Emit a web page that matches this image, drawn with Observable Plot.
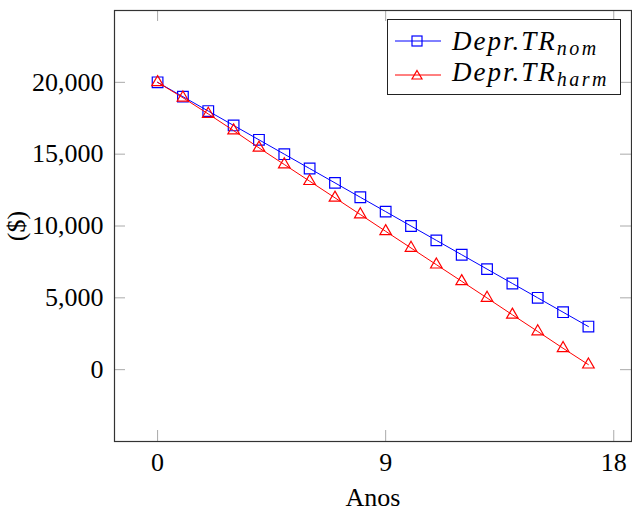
<!DOCTYPE html>
<html>
<head>
<meta charset="utf-8">
<script src="https://cdn.jsdelivr.net/npm/d3@7"></script>
<script src="https://cdn.jsdelivr.net/npm/@observablehq/plot@0.6"></script>
<style>
  html, body { margin: 0; padding: 0; background: #fff; }
  #wrap { position: relative; width: 632px; height: 513px; font-family: "Liberation Serif", "DejaVu Serif", serif; }
  #legend { position: absolute; left: 387px; top: 19px; width: 234px; height: 76px; box-sizing: border-box;
            border: 1px solid #222; background: #fff; }
  .sample { position: absolute; left: 7px; }
  .lab { position: absolute; left: 64px; font-family: "Liberation Serif", serif; font-style: italic;
         font-size: 27px; line-height: 27px; letter-spacing: 2px; white-space: nowrap; }
  .lab sub { font-size: 20px; letter-spacing: 2.5px; vertical-align: -5px; line-height: 0; }
</style>
</head>
<body>
<div id="wrap"></div>
<script>
// ---- data ----
const years = [0, 1, 2, 3, 4, 5, 6, 7, 8, 9, 10, 11, 12, 13, 14, 15, 16, 17];
const deprNom = [20000, 19000, 18000, 17000, 16000, 15000, 14000, 13000, 12000, 11000, 10000, 9000, 8000, 7000, 6000, 5000, 4000, 3000];
const deprHarm = [20000, 18930, 17800, 16640, 15440, 14280, 13120, 11960, 10800, 9630, 8470, 7310, 6150, 4990, 3820, 2660, 1490, 350];
const xTicks = [0, 9, 18];
const yTicks = [0, 5000, 10000, 15000, 20000];
const xDomain = [-1.7, 18.7];
const yDomain = [-5000, 25000];
const xLabel = "Anos";
const yLabel = "($)";
const seriesBase = ["Depr.TR", "Depr.TR"];
const seriesSub = ["nom", "harm"];

// ---- layout ----
const W = 632, H = 513;
const mL = 114, mR = 1, mT = 10, mB = 72;
const frameW = W - mL - mR, frameH = H - mT - mB;
const tickLen = 11;
const blue = "#0000ff", red = "#ff0000";

const nom = years.map((x, i) => ({x, y: deprNom[i]}));
const harm = years.map((x, i) => ({x, y: deprHarm[i]}));

const chart = Plot.plot({
  width: W, height: H,
  marginLeft: mL, marginRight: mR, marginTop: mT, marginBottom: mB,
  style: {fontFamily: '"Liberation Serif", "DejaVu Serif", serif', fontSize: "26px", color: "#000", background: "#fff"},
  x: {domain: xDomain},
  y: {domain: yDomain},
  marks: [
    // inside ticks (all four sides)
    Plot.ruleX(xTicks, {x: d => d, insetTop: frameH - tickLen, stroke: "#aaa", strokeWidth: 1}),
    Plot.ruleX(xTicks, {x: d => d, insetBottom: frameH - tickLen, stroke: "#aaa", strokeWidth: 1}),
    Plot.ruleY(yTicks, {y: d => d, insetRight: frameW - tickLen, stroke: "#aaa", strokeWidth: 1}),
    Plot.ruleY(yTicks, {y: d => d, insetLeft: frameW - tickLen, stroke: "#aaa", strokeWidth: 1}),
    Plot.axisX({ticks: xTicks, tickSize: 0, tickPadding: 11, fontSize: 26,
      label: xLabel, labelAnchor: "center", labelOffset: 64, labelArrow: "none"}),
    Plot.axisY({ticks: yTicks, tickSize: 0, tickPadding: 11, fontSize: 26, tickFormat: d3.format(","),
      label: yLabel, labelAnchor: "center", labelOffset: 108, labelArrow: "none"}),
    Plot.line(nom, {x: "x", y: "y", stroke: blue, strokeWidth: 1}),
    Plot.dot(nom, {x: "x", y: "y", symbol: "square", r: 6, stroke: blue, fill: "none", strokeWidth: 1.2}),
    Plot.line(harm, {x: "x", y: "y", stroke: red, strokeWidth: 1}),
    Plot.dot(harm, {x: "x", y: "y", symbol: "triangle", r: 4.3, stroke: red, fill: "none", strokeWidth: 1.2}),
    Plot.frame({stroke: "#333", strokeWidth: 1.2})
  ]
});

const wrap = document.getElementById("wrap");
wrap.appendChild(chart);

// ---- legend ----
const legend = document.createElement("div");
legend.id = "legend";
const entries = [
  {color: blue, shape: "square", lineY: 21, textTop: 8},
  {color: red, shape: "triangle", lineY: 54.5, textTop: 38.5}
];
entries.forEach((e, i) => {
  const sym = e.shape === "square"
    ? `<rect x="17" y="7" width="10" height="10" fill="none" stroke="${e.color}" stroke-width="1.2"/>`
    : `<path d="M22,7.5 L27,16 L17,16 Z" fill="none" stroke="${e.color}" stroke-width="1.2"/>`;
  const s = document.createElement("div");
  s.className = "sample";
  s.style.top = (e.lineY - 12) + "px";
  s.innerHTML = `<svg width="46" height="24" style="display:block"><line x1="0" x2="46" y1="12" y2="12" stroke="${e.color}" stroke-width="1"/>${sym}</svg>`;
  legend.appendChild(s);
  const t = document.createElement("div");
  t.className = "lab";
  t.style.top = e.textTop + "px";
  t.innerHTML = `${seriesBase[i]}<sub>${seriesSub[i]}</sub>`;
  legend.appendChild(t);
});
wrap.appendChild(legend);
</script>
</body>
</html>
